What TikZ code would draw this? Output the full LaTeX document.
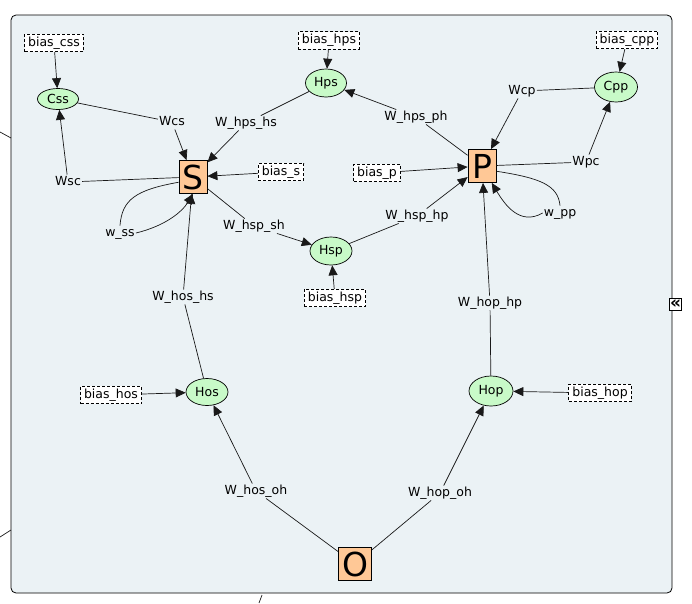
\documentclass[tikz,border=0pt]{standalone}
\usepackage{fontspec}
\setmainfont{DejaVu Sans}
\usetikzlibrary{arrows.meta,shapes.geometric}
\definecolor{bgc}{RGB}{235,242,245}
\definecolor{boxc}{RGB}{255,200,150}
\definecolor{ellc}{RGB}{200,250,200}
\definecolor{linec}{RGB}{25,25,25}
\tikzset{
  txt/.style={font=\fontsize{12.5}{15}\selectfont},
  bigbox/.style={draw=black, fill=boxc, line width=0.8pt, inner sep=0pt,
    minimum width=28pt, minimum height=33pt, font=\fontsize{33}{36}\selectfont},
  neuron/.style={ellipse, draw=black, fill=ellc, line width=0.7pt, inner sep=0pt, txt},
  biasbox/.style={draw=black, dash pattern=on 3pt off 2pt, fill=white, line width=0.7pt,
    inner xsep=3.5pt, inner ysep=2.5pt, text height=9.5pt, text depth=3pt, txt},
  lab/.style={inner xsep=1pt, inner ysep=1pt, text height=9.5pt, text depth=3pt, txt},
  con/.style={draw=linec, line width=0.7pt},
  arr/.style={con, -{Triangle[length=10pt,width=9pt]}},
}
\begin{document}
\begin{tikzpicture}[x=1pt, y=-1pt]
\useasboundingbox (0,0) rectangle (692,603);
\fill[white] (0,0) rectangle (692,603);
\draw[fill=bgc, rounded corners=5pt, line width=0.8pt] (11,15) rectangle (672,593);

% outside connector fragments
\coordinate (e1a) at (0,132); \coordinate (e1b) at (11,138);
\coordinate (e2a) at (0,537); \coordinate (e2b) at (11,530);
\coordinate (e3a) at (259,603); \coordinate (e3b) at (262,595);
\draw[con] (e1a) -- (e1b);
\draw[con] (e2a) -- (e2b);
\draw[con] (e3a) -- (e3b);

% main boxes
\node[bigbox] (S) at (193,177) {S};
\node[bigbox] (P) at (482,166) {P};
\node[bigbox, minimum width=33pt] (O) at (355,564) {O};

% neurons
\node[neuron, minimum width=41pt, minimum height=21pt] (Css) at (58,99) {Css};
\node[neuron, minimum width=41pt, minimum height=28pt] (Hps) at (326,83) {Hps};
\node[neuron, minimum width=42pt, minimum height=28pt] (Hsp) at (331,251) {Hsp};
\node[neuron, minimum width=43pt, minimum height=30pt] (Cpp) at (616,87) {Cpp};
\node[neuron, minimum width=42pt, minimum height=27pt] (Hos) at (207,392) {Hos};
\node[neuron, minimum width=44pt, minimum height=30pt] (Hop) at (491,391) {Hop};

% bias boxes
\node[biasbox] (bcss) at (54,43) {bias\_css};
\node[biasbox] (bhps) at (329,40.5) {bias\_hps};
\node[biasbox] (bcpp) at (627,40) {bias\_cpp};
\node[biasbox] (bs) at (281,172) {bias\_s};
\node[biasbox] (bp) at (377,173) {bias\_p};
\node[biasbox] (bhsp) at (335,298) {bias\_hsp};
\node[biasbox] (bhos) at (111,395) {bias\_hos};
\node[biasbox] (bhop) at (600,393) {bias\_hop};

% link labels
\node[lab] (Wcs) at (172,122) {Wcs};
\node[lab] (Whpshs) at (246,123) {W\_hps\_hs};
\node[lab] (Wsc) at (68,182) {Wsc};
\node[lab] (wss) at (120,233) {w\_ss};
\node[lab] (Whspsh) at (254,226) {W\_hsp\_sh};
\node[lab] (Whpsph) at (416,117) {W\_hps\_ph};
\node[lab] (Wcp) at (522,91) {Wcp};
\node[lab] (Wpc) at (586,162) {Wpc};
\node[lab] (wpp) at (560,213) {w\_pp};
\node[lab] (Whsphp) at (417,216) {W\_hsp\_hp};
\node[lab] (Whoshs) at (183,297) {W\_hos\_hs};
\node[lab] (Whosoh) at (256,491) {W\_hos\_oh};
\node[lab] (Whophp) at (490,303) {W\_hop\_hp};
\node[lab] (Whopoh) at (440,493) {W\_hop\_oh};

% collapse icon
\node[draw=black, fill=white, line width=0.8pt, minimum size=12.5pt, inner sep=0pt,
  font=\fontsize{17}{17}\selectfont\bfseries] (coll) at (675.5,304.5) {\raisebox{0.3pt}{«}};

% connectors
\draw[arr] (bcss) -- (Css);
\draw[con] (Css) -- (Wcs); \draw[arr] (Wcs) -- (S);
\draw[con] (Hps) -- (Whpshs); \draw[arr] (Whpshs) -- (S);
\draw[con] (S) -- (Wsc); \draw[arr] (Wsc) -- (Css);
\draw[arr] (bs) -- (S);
\draw[arr] (bhps) -- (Hps);
\draw[con] (P) -- (Whpsph); \draw[arr] (Whpsph) -- (Hps);
\draw[con] (S) -- (Whspsh); \draw[arr] (Whspsh) -- (Hsp);
\draw[con] (Hsp) -- (Whsphp); \draw[arr] (Whsphp) -- (P);
\draw[arr] (bhsp) -- (Hsp);
\draw[arr] (bp) -- (P);
\draw[con] (Cpp) -- (Wcp); \draw[arr] (Wcp) -- (P);
\draw[con] (P) -- (Wpc); \draw[arr] (Wpc) -- (Cpp);
\draw[arr] (bcpp) -- (Cpp);
\draw[con] (Hos) -- (Whoshs); \draw[arr] (Whoshs) -- (S);
\draw[arr] (bhos) -- (Hos);
\draw[con] (O) -- (Whosoh); \draw[arr] (Whosoh) -- (Hos);
\draw[con] (Hop) -- (Whophp); \draw[arr] (Whophp) -- (P);
\draw[arr] (bhop) -- (Hop);
\draw[con] (O) -- (Whopoh); \draw[arr] (Whopoh) -- (Hop);

% self loops
\draw[con] (S.200) .. controls (135,190) and (122,200) .. (wss.north);
\draw[arr] (wss.east) .. controls (165,226) and (182,212) .. (S.south);
\draw[con] (P.-20) .. controls (540,178) and (558,185) .. (wpp.north);
\draw[arr] (wpp.west) .. controls (520,226) and (505,205) .. (P.-60);
\end{tikzpicture}
\end{document}
